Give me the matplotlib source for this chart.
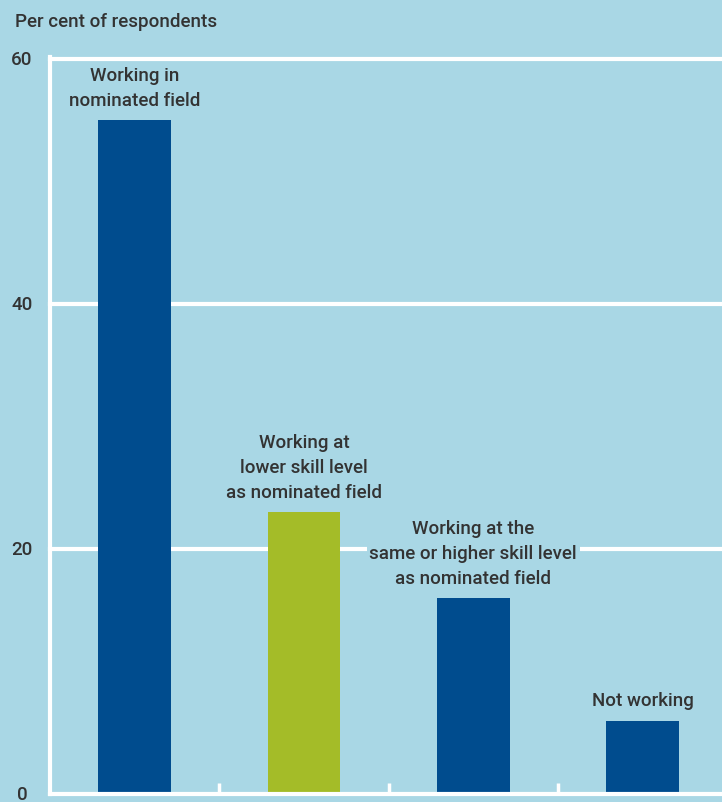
import matplotlib.pyplot as plt
import matplotlib.transforms as mtransforms

plt.rcParams['font.family'] = ['Roboto', 'DejaVu Sans']

categories = ["Working in\nnominated field",
              "Working at\nlower skill level\nas nominated field",
              "Working at the\nsame or higher skill level\nas nominated field",
              "Not working"]
values = [55, 23, 16, 6]
bar_colors = ["#004c8e", "#a4bc28", "#004c8e", "#004c8e"]
yticks = [0, 20, 40, 60]

bg = "#a9d7e5"
txt = "#333333"

fig = plt.figure(figsize=(7.22, 8.03), dpi=100)
fig.patch.set_facecolor(bg)
ax = fig.add_axes([50 / 722, 1 - 795 / 803, 1 - 50 / 722, (795 - 60) / 803])
ax.set_facecolor(bg)

x = range(len(values))
ax.bar(x, values, width=0.43, color=bar_colors, zorder=2)
ax.set_xlim(-0.5, 3.47)
ax.set_ylim(0, 60)

# white grid lines
for yv in yticks[1:]:
    ax.axhline(yv, color="white", lw=3, zorder=0.5, clip_on=False)

# axes lines
for s in ["top", "right"]:
    ax.spines[s].set_visible(False)
ax.spines["left"].set_color("white")
ax.spines["left"].set_linewidth(3)
ax.spines["bottom"].set_color("white")
ax.spines["bottom"].set_linewidth(3)
ax.spines["left"].set_bounds(0, 60.2)

# category separators on the x axis
ax.set_xticks([0.5, 1.5, 2.5])
ax.set_xticklabels([])
ax.tick_params(axis="x", direction="in", length=8, width=2.5, color="white")
ax.set_yticks([])

# y tick labels
tr = mtransforms.blended_transform_factory(fig.transFigure, ax.transData)
for yv in yticks:
    ax.text(22 / 722, yv, str(yv), transform=tr, ha="center", va="center",
            fontsize=13.5, color=txt, fontweight="medium")

# labels above bars
for xi, v, lab in zip(x, values, categories):
    ax.annotate(lab, (xi, v), xytext=(0, 8), textcoords="offset points",
                ha="center", va="bottom", fontsize=13.5, color=txt,
                fontweight="medium", linespacing=1.5, zorder=3,
                bbox=dict(facecolor=bg, edgecolor="none", pad=2))

fig.text(15 / 722, 1 - 22 / 803, "Per cent of respondents", ha="left",
         va="center", fontsize=13.5, color=txt, fontweight="medium")

fig.savefig("out.png", dpi=100, facecolor=bg)
